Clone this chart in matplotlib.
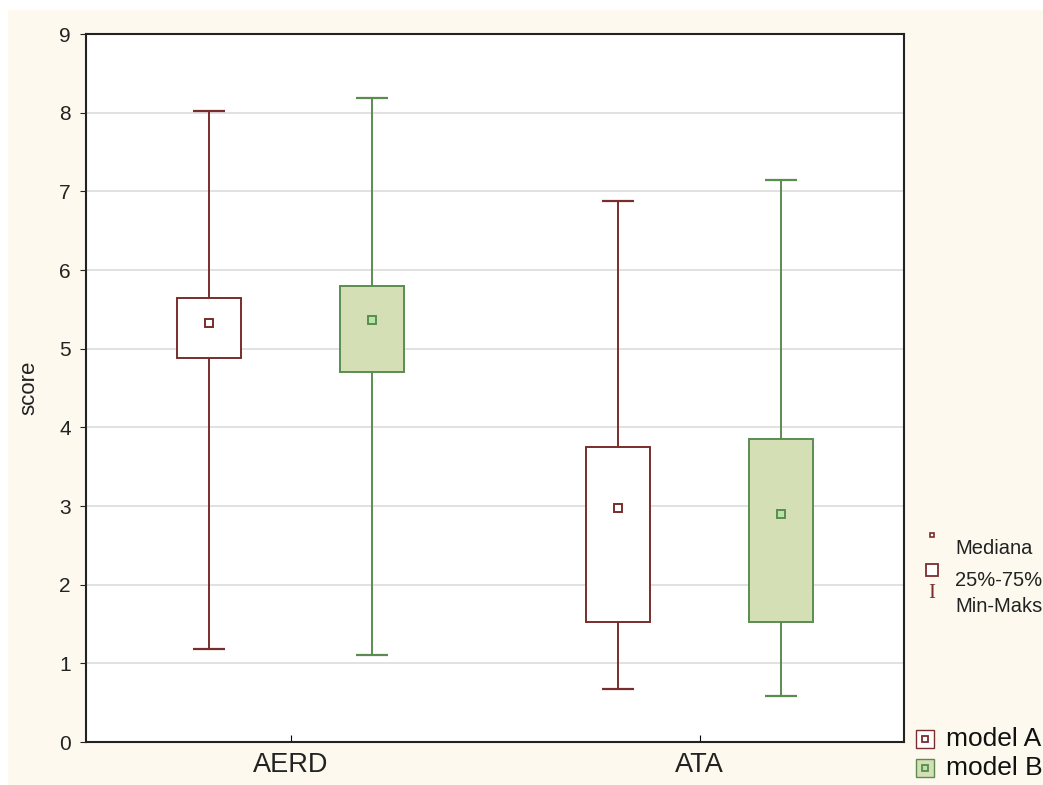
import matplotlib
matplotlib.use("Agg")
import matplotlib.pyplot as plt
from matplotlib.patches import Rectangle
from matplotlib.lines import Line2D
import numpy as np

plt.rcParams['font.family'] = ['Liberation Sans', 'DejaVu Sans']

groups = ['AERD', 'ATA']
models = ['model A', 'model B']

# min, q1, median, q3, max per group
mins_a = [1.18, 0.68]
q1_a = [4.88, 1.53]
med_a = [5.32, 2.97]
q3_a = [5.65, 3.75]
maxs_a = [8.02, 6.88]

mins_b = [1.10, 0.59]
q1_b = [4.70, 1.53]
med_b = [5.37, 2.90]
q3_b = [5.80, 3.85]
maxs_b = [8.19, 7.14]

edge_a, face_a, medface_a = '#7a2d2d', '#ffffff', '#ffffff'
edge_b, face_b, medface_b = '#5a8c50', '#d4dfb6', '#b6e3a6'

fig = plt.figure(figsize=(10.43, 7.85), dpi=100)
fig.patch.set_facecolor('#fdf9ee')
fig.patches.append(Rectangle((0, 1 - 10/785), 1, 10/785, transform=fig.transFigure,
                             facecolor='white', edgecolor='none', zorder=0))
fig.patches.append(Rectangle((0, 0), 8/1043, 1, transform=fig.transFigure,
                             facecolor='white', edgecolor='none', zorder=0))

ax = fig.add_axes([86/1043, 1 - 742/785, (904 - 86)/1043, (742 - 34)/785])
ax.set_facecolor('white')

x = np.arange(len(groups))
off, bw, cap = 0.2, 0.157, 0.078

series = [
    (x - off, mins_a, q1_a, med_a, q3_a, maxs_a, edge_a, face_a, medface_a),
    (x + off, mins_b, q1_b, med_b, q3_b, maxs_b, edge_b, face_b, medface_b),
]
for xs, mn, q1, md, q3, mx, ec, fc, mfc in series:
    mn, q1, md, q3, mx = map(np.array, (mn, q1, md, q3, mx))
    ax.vlines(xs, mn, q1, color=ec, lw=1.4, zorder=2)
    ax.vlines(xs, q3, mx, color=ec, lw=1.4, zorder=2)
    ax.hlines(mn, xs - cap/2, xs + cap/2, color=ec, lw=1.6, zorder=2)
    ax.hlines(mx, xs - cap/2, xs + cap/2, color=ec, lw=1.6, zorder=2)
    ax.bar(xs, q3 - q1, bottom=q1, width=bw, facecolor=fc, edgecolor=ec,
           linewidth=1.4, zorder=3)
    ax.plot(xs, md, 's', ms=6, mfc=mfc, mec=ec, mew=1.4, ls='none', zorder=4)

ax.set_xlim(-0.5, 1.5)
ax.set_ylim(0, 9)
ax.set_yticks(range(0, 10))
ax.set_xticks(x)
ax.set_xticklabels(groups, fontsize=19.5, color='#222222')
ax.tick_params(axis='y', direction='out', length=4, labelsize=15, colors='#222222', pad=7)
ax.tick_params(axis='x', direction='in', length=5, pad=7)
ax.set_ylabel('score', fontsize=16, color='#222222', labelpad=14)
ax.grid(axis='y', color='#d8d8d8', lw=1.1, zorder=0)
ax.set_axisbelow(True)
for s in ax.spines.values():
    s.set_color('#222222')
    s.set_linewidth(1.5)

# legend for statistics
def fx(px):
    return px / 1043

def fy(py):
    return 1 - py / 785

fig.add_artist(Line2D([fx(932)], [fy(535)], marker='s', ms=3.5, mfc='white',
                      mec=edge_a, mew=1.2, transform=fig.transFigure))
fig.text(fx(955), fy(549), 'Mediana', fontsize=14.5, color='#222222', va='center')
fig.add_artist(Line2D([fx(932)], [fy(570)], marker='s', ms=9, mfc='white',
                      mec=edge_a, mew=1.3, transform=fig.transFigure))
fig.text(fx(955), fy(580), '25%-75%', fontsize=14.5, color='#222222', va='center')
fig.text(fx(932), fy(594), 'I', fontsize=15, color=edge_a, ha='center', va='center',
         family='Liberation Serif')
fig.text(fx(955), fy(607), 'Min-Maks', fontsize=14.5, color='#222222', va='center')

# legend for models
leg = [(models[0], 739, edge_a, face_a, medface_a), (models[1], 768, edge_b, face_b, medface_b)]
for name, py, ec, fc, mfc in leg:
    fig.add_artist(Line2D([fx(925)], [fy(py)], marker='s', ms=13, mfc=fc,
                          mec=ec, mew=1.0, transform=fig.transFigure))
    fig.add_artist(Line2D([fx(925)], [fy(py)], marker='s', ms=5, mfc=mfc,
                          mec=ec, mew=1.3, transform=fig.transFigure))
    fig.text(fx(946), fy(py), name, fontsize=19, color='#111111', va='center')

fig.savefig('out.png', dpi=100, facecolor=fig.get_facecolor())
